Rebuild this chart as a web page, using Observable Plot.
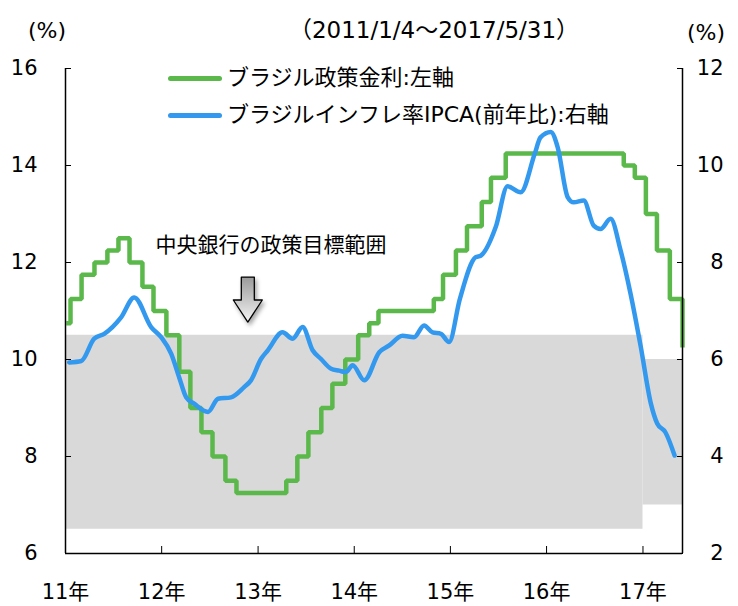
<!DOCTYPE html>
<html><head><meta charset="utf-8">
<script src="https://cdn.jsdelivr.net/npm/d3@7"></script>
<script src="https://cdn.jsdelivr.net/npm/@observablehq/plot@0.6"></script>
<style>
body{margin:0;background:#fff;}
#wrap{position:relative;width:738px;height:606px;font-family:"DejaVu Sans","Noto Sans CJK JP",sans-serif;color:#000;}
.lbl{position:absolute;white-space:nowrap;font-size:21px;line-height:1;}
.sw{position:absolute;height:5px;border-radius:2.5px;}
</style></head><body><div id="wrap"></div>
<script>
// ---- data ----
const titleText = "（2011/1/4～2017/5/31）";
const seriesNames = ["ブラジル政策金利:左軸", "ブラジルインフレ率IPCA(前年比):右軸"];
const seriesColors = ["#5bb84a", "#3399ee"];
const annotText = "中央銀行の政策目標範囲";

const leftTicks = [6, 8, 10, 12, 14, 16];
const rightTicks = [2, 4, 6, 8, 10, 12];
const yearTickDates = ["2011-01-01","2012-01-01","2013-01-01","2014-01-01","2015-01-01","2016-01-01","2017-01-01"];
const yearLabels = ["11年","12年","13年","14年","15年","16年","17年"];
const xDomain = ["2011-01-01", "2017-05-31"];

// Selic policy rate (left axis)
const selicDates = ["2011-01-04","2011-01-20","2011-03-03","2011-04-21","2011-06-09","2011-07-21","2011-09-01","2011-10-20","2011-12-01","2012-01-19","2012-03-08","2012-04-19","2012-05-31","2012-07-12","2012-08-30","2012-10-11","2013-04-18","2013-05-30","2013-07-11","2013-08-29","2013-10-10","2013-11-28","2014-01-16","2014-02-27","2014-04-03","2014-10-30","2014-12-04","2015-01-22","2015-03-05","2015-04-30","2015-06-04","2015-07-30","2016-10-20","2016-12-01","2017-01-12","2017-02-23","2017-04-13","2017-05-31"];
const selicValues = [10.75,11.25,11.75,12,12.25,12.5,12,11.5,11,10.5,9.75,9,8.5,8,7.5,7.25,7.5,8,8.5,9,9.5,10,10.5,10.75,11,11.25,11.75,12.25,12.75,13.25,13.75,14.25,14,13.75,13,12.25,11.25,10.25];

// IPCA y/y (right axis)
const ipcaDates = ["2011-01-15","2011-03-02","2011-04-20","2011-05-28","2011-07-31","2011-09-19","2011-11-22","2011-12-30","2012-02-06","2012-03-07","2012-04-03","2012-05-03","2012-06-25","2012-08-02","2012-09-20","2012-11-09","2012-12-05","2013-01-12","2013-02-07","2013-04-04","2013-05-12","2013-06-19","2013-07-27","2013-08-28","2013-10-05","2013-11-05","2013-11-30","2013-12-26","2014-02-08","2014-04-06","2014-05-14","2014-07-03","2014-08-16","2014-09-23","2014-10-25","2014-11-26","2014-12-27","2015-02-06","2015-04-07","2015-04-26","2015-06-22","2015-08-06","2015-09-25","2015-11-17","2015-12-09","2016-01-17","2016-02-12","2016-03-21","2016-04-13","2016-05-21","2016-06-28","2016-07-24","2016-08-31","2016-10-08","2016-11-15","2016-12-23","2017-01-31","2017-02-24","2017-03-27","2017-05-01"];
const ipcaValues = [5.94,5.97,6.43,6.53,6.87,7.28,6.67,6.46,6.12,5.64,5.22,5.09,4.92,5.19,5.22,5.43,5.57,6.01,6.19,6.56,6.43,6.67,6.19,6.01,5.81,5.77,5.74,5.88,5.57,6.15,6.29,6.49,6.46,6.70,6.56,6.53,6.36,7.25,8.11,8.14,8.73,9.57,9.45,10.24,10.58,10.69,10.38,9.35,9.24,9.28,8.76,8.69,8.90,8.25,7.35,6.28,5.09,4.68,4.50,4.02];

// Inflation target range (right axis)
const bandStart = ["2011-01-04", "2017-01-01"];
const bandEnd = ["2017-01-01", "2017-05-31"];
const bandLower = [2.5, 3.0];
const bandUpper = [6.5, 6.0];

// annotation anchors (data coordinates, left axis)
const annotAt = {date: "2013-02-19", value: 12.35};
const arrowAt = {date: "2012-11-23", value: 11.70};

// ---- build ----
const parse = d3.utcParse("%Y-%m-%d");
const offset = leftTicks[0] - rightTicks[0]; // right = left - 4
const selic = selicDates.map((d, i) => ({date: parse(d), value: selicValues[i]}));
const ipca = ipcaDates.map((d, i) => ({date: parse(d), value: ipcaValues[i] + offset}));
const band = bandStart.map((d, i) => ({x1: parse(d), x2: parse(bandEnd[i]), y1: bandLower[i] + offset, y2: bandUpper[i] + offset}));
const yearTicks = yearTickDates.map(parse);
const xd = xDomain.map(parse);

const arrowShape = {
  draw(ctx, l, r) {
    const sw = 6.5, hw = 14.5, sl = l * 0.51;
    ctx.moveTo(-sw, 0); ctx.lineTo(sw, 0); ctx.lineTo(sw, sl); ctx.lineTo(hw, sl);
    ctx.lineTo(0, l); ctx.lineTo(-hw, sl); ctx.lineTo(-sw, sl); ctx.closePath();
  }
};

const chart = Plot.plot({
  width: 738, height: 606,
  marginLeft: 65, marginRight: 56, marginTop: 68, marginBottom: 53,
  style: {fontSize: "21px", fontFamily: '"DejaVu Sans","Noto Sans CJK JP",sans-serif', background: "#fff", color: "#000"},
  x: {type: "utc", domain: xd},
  y: {domain: [leftTicks[0], leftTicks[leftTicks.length - 1]]},
  marks: [
    Plot.rectY(band, {x1: "x1", x2: "x2", y1: "y1", y2: "y2", fill: "#d9d9d9"}),
    Plot.line(selic, {x: "date", y: "value", curve: "step-after", stroke: seriesColors[0], strokeWidth: 4.5, strokeLinejoin: "miter", strokeLinecap: "butt"}),
    Plot.line(ipca, {x: "date", y: "value", curve: "monotone-x", stroke: seriesColors[1], strokeWidth: 4.5, strokeLinecap: "round"}),
    Plot.text([annotText], {x: () => parse(annotAt.date), y: () => annotAt.value, text: d => d, fontSize: 21}),
    Plot.vector([arrowAt], {x: d => parse(d.date), y: "value", length: 45, anchor: "start", rotate: 0, shape: arrowShape, fill: "url(#arrowGrad)", stroke: "#000", strokeWidth: 1.3}),
    // axes
    Plot.axisY({anchor: "left", ticks: leftTicks, tickSize: 6, dx: 6, fill: "none", label: null}),
    Plot.axisY({anchor: "left", ticks: leftTicks, tickSize: 0, tickPadding: 28, label: null}),
    Plot.axisY({anchor: "right", ticks: leftTicks, tickSize: 6, dx: -6, fill: "none", label: null}),
    Plot.axisY({anchor: "right", ticks: leftTicks, tickSize: 0, tickPadding: 41, textAnchor: "end", tickFormat: (d, i) => rightTicks[leftTicks.indexOf(d)], label: null}),
    Plot.axisX({ticks: yearTicks.slice(1), tickSize: 7, dy: -7, fill: "none", label: null}),
    Plot.axisX({ticks: yearTicks, tickSize: 0, tickPadding: 31, tickFormat: d => yearLabels[yearTicks.findIndex(t => +t === +d)], label: null}),
    Plot.ruleX([xd[0], xd[1]], {stroke: "#000", strokeWidth: 1.5}),
    Plot.ruleY([leftTicks[0]], {stroke: "#000", strokeWidth: 1.5})
  ]
});

const svg = chart;
const defs = d3.select(svg).insert("defs", ":first-child");
const g = defs.append("linearGradient").attr("id", "arrowGrad").attr("x1", 0).attr("y1", 0).attr("x2", 0).attr("y2", 1);
g.append("stop").attr("offset", "0%").attr("stop-color", "#9a9a9a");
g.append("stop").attr("offset", "100%").attr("stop-color", "#f4f4f4");
d3.select(svg).selectAll('[fill="url(#arrowGrad)"]').style("filter", "drop-shadow(2px 3px 2px rgba(0,0,0,0.35))");

const wrap = document.getElementById("wrap");
wrap.appendChild(svg);

function addLabel(text, x, y, align, size) {
  const el = document.createElement("div");
  el.className = "lbl";
  el.textContent = text;
  el.style.fontSize = size + "px";
  el.style.left = x + "px"; el.style.top = y + "px";
  el.style.transform = align === "center" ? "translate(-50%,-50%)" : "translate(0,-50%)";
  wrap.appendChild(el);
}
addLabel("(%)", 47, 31, "center", 22);
addLabel("(%)", 706, 33, "center", 22);
addLabel(titleText, 434, 30, "center", 23);
seriesNames.forEach((name, i) => {
  const y = [78, 115][i];
  const sw = document.createElement("div");
  sw.className = "sw";
  sw.style.left = "168px"; sw.style.width = "54px"; sw.style.top = (y - 2.5) + "px";
  sw.style.background = seriesColors[i];
  wrap.appendChild(sw);
  addLabel(name, 227, y, "left", 22);
});
</script></body></html>
